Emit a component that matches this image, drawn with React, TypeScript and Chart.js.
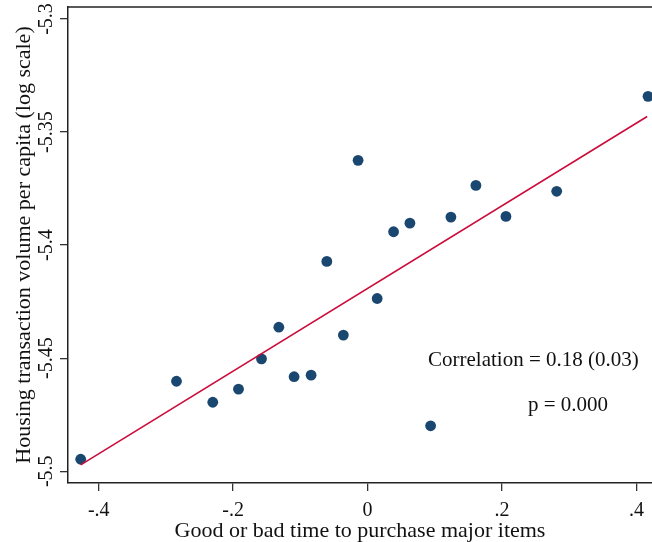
import React, { useEffect, useRef } from "react";
import { Chart, registerables } from "chart.js";

Chart.register(...registerables);

// ---- data ----
const sentimentX = [
  -0.4268, -0.2843, -0.2303, -0.192, -0.1578, -0.132, -0.1093, -0.084, -0.0606, -0.036,
  -0.0141, 0.0143, 0.0387, 0.063, 0.0938, 0.124, 0.1612, 0.2059, 0.2814, 0.4173,
];
const logVolumeY = [
  -5.4947, -5.4602, -5.4695, -5.4637, -5.4503, -5.4363, -5.4582, -5.4575, -5.4072, -5.4398,
  -5.3625, -5.4236, -5.3941, -5.3903, -5.4799, -5.3876, -5.3736, -5.3873, -5.3762, -5.3342,
];
const fitX = [-0.4268, 0.416];
const fitY = [-5.4972, -5.3431];

const xTickValues = [-0.4, -0.2, 0, 0.2, 0.4];
const xTickLabels = ["-.4", "-.2", "0", ".2", ".4"];
const yTickValues = [-5.5, -5.45, -5.4, -5.35, -5.3];
const yTickLabels = ["-5.5", "-5.45", "-5.4", "-5.35", "-5.3"];
const xRange = [-0.4457, 0.4232];
const yRange = [-5.5052, -5.2947];

const xTitle = "Good or bad time to purchase major items";
const yTitle = "Housing transaction volume per capita (log scale)";
const annotations = [
  { text: "Correlation = 0.18 (0.03)", x: 0.09, y: -5.451 },
  { text: "p = 0.000", x: 0.2386, y: -5.4709 },
];

const FONT = "'Liberation Serif', 'Times New Roman', serif";
const INK = "#111111";

const overlayPlugin = {
  id: "overlay",
  afterDatasetsDraw(chart: any) {
    const { ctx, chartArea, scales } = chart;
    ctx.save();
    // top frame line
    ctx.strokeStyle = "#222";
    ctx.lineWidth = 1.5;
    ctx.beginPath();
    ctx.moveTo(chartArea.left, chartArea.top);
    ctx.lineTo(chartArea.right, chartArea.top);
    ctx.stroke();
    // annotation text
    ctx.fillStyle = INK;
    ctx.font = `21px ${FONT}`;
    ctx.textAlign = "left";
    ctx.textBaseline = "middle";
    for (const a of annotations) {
      ctx.fillText(a.text, scales.x.getPixelForValue(a.x), scales.y.getPixelForValue(a.y));
    }
    ctx.restore();
  },
};

export default function App() {
  const ref = useRef<HTMLCanvasElement | null>(null);
  useEffect(() => {
    if (!ref.current) return;
    const chart = new Chart(ref.current, {
      type: "scatter",
      data: {
        datasets: [
          {
            label: "fit",
            data: fitX.map((x, i) => ({ x, y: fitY[i] })),
            showLine: true,
            borderColor: "#cc0c3a",
            borderWidth: 1.6,
            pointRadius: 0,
            fill: false,
          } as any,
          {
            label: "points",
            data: sentimentX.map((x, i) => ({ x, y: logVolumeY[i] })),
            backgroundColor: "#1a476f",
            borderWidth: 0,
            pointRadius: 5.4,
          },
        ],
      },
      options: {
        animation: false,
        responsive: false,
        devicePixelRatio: 1,
        layout: { autoPadding: false, padding: { left: 0, top: 7, right: 0, bottom: 0 } },
        plugins: { legend: { display: false }, tooltip: { enabled: false } },
        scales: {
          x: {
            type: "linear",
            min: xRange[0],
            max: xRange[1],
            afterBuildTicks: (s: any) => {
              s.ticks = xTickValues.map((v) => ({ value: v }));
            },
            afterFit: (s: any) => {
              s.height = 59;
              s.paddingLeft = 0;
              s.paddingRight = 0;
            },
            grid: { drawOnChartArea: false, drawTicks: true, tickLength: 8, color: "#333", lineWidth: 1.3 },
            border: { display: true, color: "#222", width: 1.5 },
            ticks: {
              padding: 8,
              color: INK,
              font: { family: FONT, size: 20 },
              maxRotation: 0,
              callback: (v: any) => {
                const i = xTickValues.findIndex((t) => Math.abs(t - Number(v)) < 1e-9);
                return i >= 0 ? xTickLabels[i] : "";
              },
            },
            title: {
              display: true,
              text: xTitle,
              color: INK,
              font: { family: FONT, size: 22, lineHeight: 1.0 },
              padding: { top: 0, bottom: 0 },
            },
          },
          y: {
            type: "linear",
            min: yRange[0],
            max: yRange[1],
            afterBuildTicks: (s: any) => {
              s.ticks = yTickValues.map((v) => ({ value: v }));
            },
            afterFit: (s: any) => {
              s.width = 68;
              s.paddingTop = 0;
              s.paddingBottom = 0;
            },
            grid: { drawOnChartArea: false, drawTicks: true, tickLength: 8, color: "#333", lineWidth: 1.3 },
            border: { display: true, color: "#222", width: 1.5 },
            ticks: {
              padding: -8,
              color: INK,
              crossAlign: "center",
              minRotation: 90,
              maxRotation: 90,
              font: { family: FONT, size: 20 },
              callback: (v: any) => {
                const i = yTickValues.findIndex((t) => Math.abs(t - Number(v)) < 1e-9);
                return i >= 0 ? yTickLabels[i] : "";
              },
            },
            title: {
              display: true,
              text: yTitle,
              color: INK,
              font: { family: FONT, size: 22, lineHeight: 1.0 },
              padding: { top: 13, bottom: 0 },
            },
          },
        },
      },
      plugins: [overlayPlugin],
    });
    return () => chart.destroy();
  }, []);
  return (
    <div style={{ position: "fixed", left: 0, top: 0, width: 652, height: 542, background: "#fff" }}>
      <canvas ref={ref} width={652} height={542} />
    </div>
  );
}
